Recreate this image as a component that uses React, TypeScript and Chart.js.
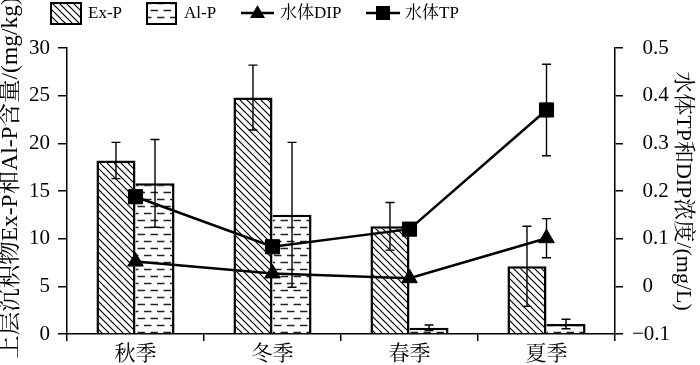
import React, { useEffect, useRef } from 'react';
import { Chart, registerables } from 'chart.js';

Chart.register(...registerables);

const categories = ['秋季', '冬季', '春季', '夏季'];
const exP = [18.2, 24.8, 11.3, 7.1];
const exPErr = [1.9, 3.4, 2.5, 4.2];
const alP = [15.8, 12.5, 0.65, 1.05];
const alPErr = [4.6, 7.6, 0.3, 0.5];
const dip = [0.052, 0.027, 0.017, 0.101];
const dipErr = [null, null, null, 0.041];
const tp = [0.188, 0.083, 0.12, 0.37];
const tpErr = [null, null, null, 0.096];
const legendLabels = ['Ex-P', 'Al-P', '水体DIP', '水体TP'];
const leftTitle = '上层沉积物Ex-P和Al-P含量/(mg/kg)';
const rightTitle = '水体TP和DIP浓度/(mg/L)';
const leftMin = 0, leftMax = 30, leftStep = 5;
const rightMin = -0.1, rightMax = 0.5, rightStep = 0.1;

const FONT = "'Liberation Serif', 'Times New Roman', 'Noto Serif CJK SC', 'Noto Sans CJK SC', serif";

function makeHatch(): CanvasPattern | string {
  const s = 7;
  const c = document.createElement('canvas');
  c.width = s; c.height = s;
  const g = c.getContext('2d');
  if (!g) return '#fff';
  g.fillStyle = '#fff';
  g.fillRect(0, 0, s, s);
  g.strokeStyle = '#000';
  g.lineWidth = 1.2;
  for (let k = -1; k <= 1; k++) {
    g.beginPath();
    g.moveTo(k * s - 1, -1);
    g.lineTo(k * s + s + 1, s + 1);
    g.stroke();
  }
  return g.createPattern(c, 'repeat') || '#fff';
}

function makeDash(): CanvasPattern | string {
  const w = 13, h = 14;
  const c = document.createElement('canvas');
  c.width = w; c.height = h;
  const g = c.getContext('2d');
  if (!g) return '#fff';
  g.fillStyle = '#fff';
  g.fillRect(0, 0, w, h);
  g.strokeStyle = '#222';
  g.lineWidth = 1.6;
  g.beginPath();
  g.moveTo(1, 3.5); g.lineTo(8.5, 3.5);
  g.moveTo(7.5, 10.5); g.lineTo(13, 10.5);
  g.moveTo(0, 10.5); g.lineTo(2, 10.5);
  g.stroke();
  return g.createPattern(c, 'repeat') || '#fff';
}

function fmtRight(v: number): string {
  if (Math.abs(v) < 1e-9) return '\u20020';
  if (v < 0) return '\u2212' + Math.abs(v).toFixed(1);
  return '\u2002' + v.toFixed(1);
}

export default function App() {
  const ref = useRef<HTMLCanvasElement | null>(null);

  useEffect(() => {
    const canvas = ref.current;
    if (!canvas) return;
    const hatch = makeHatch();
    const dash = makeDash();

    const errorBars = {
      id: 'errorBars',
      afterDatasetsDraw(chart: any) {
        const ctx = chart.ctx;
        ctx.save();
        ctx.strokeStyle = '#000';
        ctx.lineWidth = 1.4;
        chart.data.datasets.forEach((ds: any, i: number) => {
          const errs = ds.errors;
          if (!errs) return;
          const meta = chart.getDatasetMeta(i);
          const scale = chart.scales[meta.yAxisID];
          meta.data.forEach((el: any, j: number) => {
            const e = errs[j];
            if (e == null) return;
            const v = ds.data[j];
            const x = el.x;
            const y1 = scale.getPixelForValue(v + e);
            const y2 = scale.getPixelForValue(v - e);
            const cap = 4.5;
            ctx.beginPath();
            ctx.moveTo(x, y1); ctx.lineTo(x, y2);
            ctx.moveTo(x - cap, y1); ctx.lineTo(x + cap, y1);
            ctx.moveTo(x - cap, y2); ctx.lineTo(x + cap, y2);
            ctx.stroke();
          });
        });
        ctx.restore();
      },
    };

    const textPlugin = {
      id: 'customText',
      afterDraw(chart: any) {
        const ctx = chart.ctx;
        ctx.save();
        // left axis title
        ctx.save();
        ctx.font = `23.5px ${FONT}`;
        ctx.fillStyle = '#000';
        ctx.textAlign = 'center';
        ctx.textBaseline = 'middle';
        ctx.translate(11, 178);
        ctx.rotate(-Math.PI / 2);
        ctx.fillText(leftTitle, 0, 0);
        ctx.restore();

        const cy = 13;
        ctx.font = `17px ${FONT}`;
        ctx.fillStyle = '#000';
        ctx.textBaseline = 'middle';
        ctx.textAlign = 'left';
        // Ex-P box
        ctx.fillStyle = hatch as any;
        ctx.fillRect(51, 3, 30, 21);
        ctx.strokeStyle = '#000';
        ctx.lineWidth = 2;
        ctx.strokeRect(51, 3, 30, 21);
        ctx.fillStyle = '#000';
        ctx.fillText(legendLabels[0], 88, cy + 1);
        // Al-P box
        ctx.fillStyle = dash as any;
        ctx.fillRect(147, 3, 29, 21);
        ctx.strokeRect(147, 3, 29, 21);
        ctx.fillStyle = '#000';
        ctx.fillText(legendLabels[1], 184, cy + 1);
        // DIP
        ctx.lineWidth = 2.5;
        ctx.beginPath();
        ctx.moveTo(241, cy); ctx.lineTo(274, cy);
        ctx.stroke();
        ctx.beginPath();
        ctx.moveTo(257.5, cy - 8);
        ctx.lineTo(265, cy + 5);
        ctx.lineTo(250, cy + 5);
        ctx.closePath();
        ctx.fill();
        ctx.fillText(legendLabels[2], 280, cy + 1);
        // TP
        ctx.beginPath();
        ctx.moveTo(366, cy); ctx.lineTo(400, cy);
        ctx.stroke();
        ctx.fillRect(376, cy - 7, 14, 14);
        ctx.fillText(legendLabels[3], 405, cy + 1);
        ctx.restore();
      },
    };

    const axisColor = '#000';
    const chart = new Chart(canvas, {
      data: {
        labels: categories,
        datasets: [
          {
            type: 'line',
            label: legendLabels[3],
            data: tp,
            errors: tpErr,
            yAxisID: 'y1',
            borderColor: '#000',
            borderWidth: 2.5,
            pointStyle: 'rect',
            pointRadius: 10,
            pointBackgroundColor: '#000',
            pointBorderColor: '#000',
            pointBorderWidth: 1,
            tension: 0,
            order: 0,
          } as any,
          {
            type: 'line',
            label: legendLabels[2],
            data: dip,
            errors: dipErr,
            yAxisID: 'y1',
            borderColor: '#000',
            borderWidth: 2.5,
            pointStyle: 'triangle',
            pointRadius: 9,
            pointBackgroundColor: '#000',
            pointBorderColor: '#000',
            pointBorderWidth: 1,
            tension: 0,
            order: 0,
          } as any,
          {
            type: 'bar',
            label: legendLabels[0],
            data: exP,
            errors: exPErr,
            yAxisID: 'y',
            backgroundColor: hatch,
            borderColor: '#000',
            borderWidth: { top: 2.5, left: 2.5, right: 2.5, bottom: 0 },
            borderSkipped: false,
            categoryPercentage: 0.57,
            barPercentage: 1.0,
            order: 1,
          } as any,
          {
            type: 'bar',
            label: legendLabels[1],
            data: alP,
            errors: alPErr,
            yAxisID: 'y',
            backgroundColor: dash,
            borderColor: '#000',
            borderWidth: { top: 2.5, left: 0, right: 2.5, bottom: 0 },
            borderSkipped: false,
            categoryPercentage: 0.57,
            barPercentage: 1.0,
            order: 1,
          } as any,
        ],
      },
      options: {
        animation: false,
        responsive: false,
        maintainAspectRatio: false,
        font: { family: FONT },
        layout: { padding: { top: 48, left: 0, right: 0, bottom: 0 } },
        plugins: {
          legend: { display: false },
          tooltip: { enabled: false },
          title: { display: false },
        },
        scales: {
          x: {
            type: 'category',
            offset: true,
            grid: {
              offset: true,
              drawOnChartArea: false,
              drawTicks: true,
              tickLength: 7,
              color: axisColor,
              lineWidth: 1.5,
            },
            border: { display: true, color: axisColor, width: 1.5 },
            ticks: { color: '#000', font: { size: 21, family: FONT }, padding: 1, maxRotation: 0 },
            afterFit: (s: any) => { s.height = 31; },
          },
          y: {
            type: 'linear',
            position: 'left',
            min: leftMin,
            max: leftMax,
            ticks: { stepSize: leftStep, color: '#000', font: { size: 21, family: FONT }, padding: 8 },
            grid: { drawOnChartArea: false, tickLength: 9, color: axisColor, lineWidth: 1.5 },
            border: { display: true, color: axisColor, width: 1.5 },
            title: { display: false },
            afterFit: (s: any) => { s.width = 67; },
          },
          y1: {
            type: 'linear',
            position: 'right',
            min: rightMin,
            max: rightMax,
            ticks: {
              stepSize: rightStep,
              color: '#000',
              font: { size: 21, family: FONT },
              padding: 9,
              callback: (v: any) => fmtRight(Number(v)),
            },
            grid: { drawOnChartArea: false, tickLength: 8, color: axisColor, lineWidth: 1.5 },
            border: { display: true, color: axisColor, width: 1.5 },
            title: {
              display: true,
              text: rightTitle,
              color: '#000',
              font: { size: 22, family: FONT, lineHeight: 1.2 },
              padding: { top: 4, bottom: 0 },
            },
            afterFit: (s: any) => { s.width = 85; },
          },
        },
      } as any,
      plugins: [errorBars, textPlugin],
    });

    return () => { chart.destroy(); };
  }, []);

  return (
    <div style={{ position: 'absolute', left: 0, top: 0, width: 700, height: 365, background: '#fff' }}>
      <canvas ref={ref} width={700} height={365} style={{ display: 'block', width: 700, height: 365 }} />
    </div>
  );
}
